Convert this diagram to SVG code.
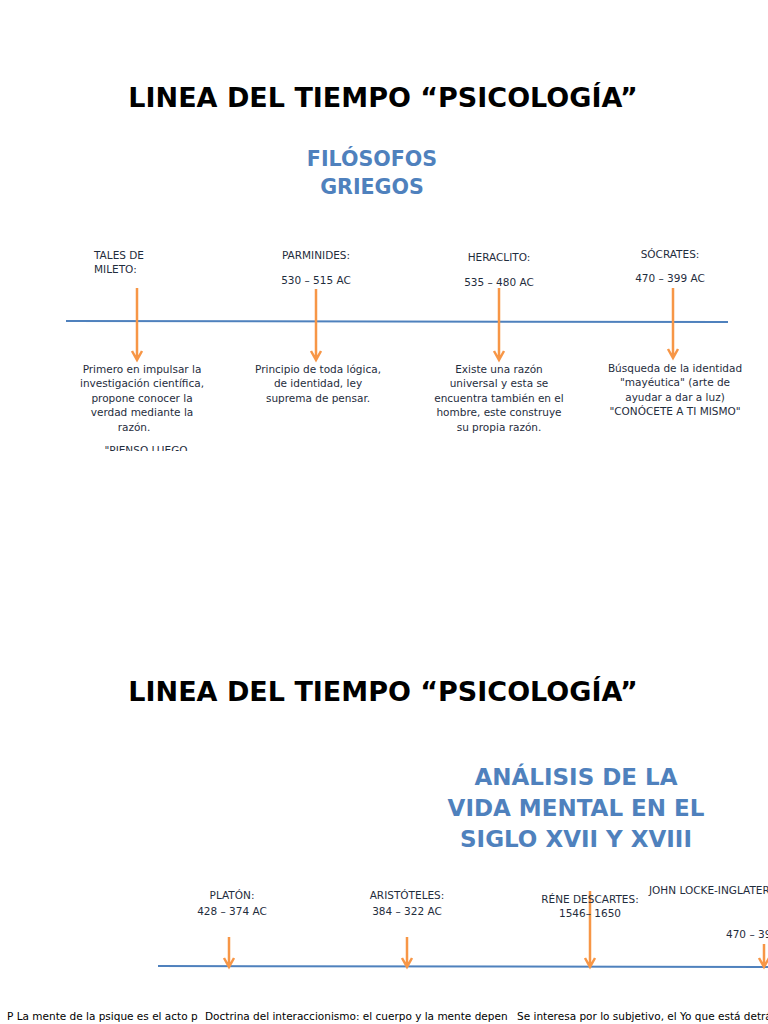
<svg xmlns="http://www.w3.org/2000/svg" width="768" height="1024" viewBox="0 0 768 1024">
<style>
.t{font-family:"DejaVu Sans",sans-serif;font-weight:bold;font-size:27px;fill:#000;text-anchor:middle}
.h{font-family:"DejaVu Sans",sans-serif;font-weight:bold;fill:#4f81bd;text-anchor:middle}
.s{font-family:"DejaVu Sans",sans-serif;font-size:10.5px;fill:#1f2d3d;text-anchor:middle}
.b{font-family:"DejaVu Sans",sans-serif;font-size:10.5px;fill:#000}
.ln{stroke:#4f81bd;stroke-width:2}
.ar{stroke:#f79646;stroke-width:2.5;fill:none}
</style>
<defs>
<clipPath id="c1"><rect x="0" y="440" width="768" height="11"/></clipPath>
<clipPath id="cb1"><rect x="0" y="1000" width="199" height="24"/></clipPath>
<clipPath id="cb2"><rect x="204" y="1000" width="308" height="24"/></clipPath>
</defs>
<rect width="768" height="1024" fill="#fff"/>
<text class="t" x="383" y="107">LINEA DEL TIEMPO “PSICOLOGÍA”</text>
<text class="h" font-size="20.6" x="372" y="166">FILÓSOFOS</text>
<text class="h" font-size="20.6" x="372" y="194">GRIEGOS</text>
<g id="connectors">
<line class="ln" x1="66" y1="321" x2="728" y2="322"/>
<path class="ar" d="M137 288V359M132 351L137 360L142 351"/>
<path class="ar" d="M316 289V359M311 351L316 360L321 351"/>
<path class="ar" d="M499 288V359M494 351L499 360L504 351"/>
<path class="ar" d="M673 288V357M668 349L673 358L678 349"/>
<line class="ln" x1="158" y1="966" x2="768" y2="967"/>
<path class="ar" d="M229 937V966M224 958L229 967L234 958"/>
<path class="ar" d="M407 937V966M402 958L407 967L412 958"/>
<path class="ar" d="M590 891V966M585 958L590 967L595 958"/>
<path class="ar" d="M764 944V966M759 958L764 967L769 958"/>
</g>
<g id="tales">
<text class="s" x="94" y="259" style="text-anchor:start">TALES DE</text>
<text class="s" x="94" y="273" style="text-anchor:start">MILETO:</text>
<text class="s" x="142" y="373">Primero en impulsar la</text>
<text class="s" x="142" y="387">investigación científica,</text>
<text class="s" x="142" y="402">propone conocer la</text>
<text class="s" x="142" y="416">verdad mediante la</text>
<text class="s" x="134" y="431">razón.</text>
<text class="s" x="146" y="454" clip-path="url(#c1)">"PIENSO LUEGO</text>
</g>
<g id="parminides">
<text class="s" x="316" y="259">PARMINIDES:</text>
<text class="s" x="316" y="284">530 – 515 AC</text>
<text class="s" x="318" y="373">Principio de toda lógica,</text>
<text class="s" x="318" y="387">de identidad, ley</text>
<text class="s" x="318" y="402">suprema de pensar.</text>
</g>
<g id="heraclito">
<text class="s" x="499" y="261">HERACLITO:</text>
<text class="s" x="499" y="286">535 – 480 AC</text>
<text class="s" x="499" y="373">Existe una razón</text>
<text class="s" x="499" y="387">universal y esta se</text>
<text class="s" x="499" y="402">encuentra también en el</text>
<text class="s" x="499" y="416">hombre, este construye</text>
<text class="s" x="499" y="431">su propia razón.</text>
</g>
<g id="socrates">
<text class="s" x="670" y="258">SÓCRATES:</text>
<text class="s" x="670" y="282">470 – 399 AC</text>
<text class="s" x="675" y="372">Búsqueda de la identidad</text>
<text class="s" x="675" y="386">"mayéutica" (arte de</text>
<text class="s" x="675" y="401">ayudar a dar a luz)</text>
<text class="s" x="675" y="415">"CONÓCETE A TI MISMO"</text>
</g>
<text class="t" x="383" y="701">LINEA DEL TIEMPO “PSICOLOGÍA”</text>
<text class="h" font-size="23" x="576" y="785">ANÁLISIS DE LA</text>
<text class="h" font-size="23" x="576" y="816">VIDA MENTAL EN EL</text>
<text class="h" font-size="23" x="576" y="847">SIGLO XVII Y XVIII</text>
<g id="platon">
<text class="s" x="232" y="899">PLATÓN:</text>
<text class="s" x="232" y="915">428 – 374 AC</text>
<text class="b" x="7" y="1020" clip-path="url(#cb1)">P  La mente de la psique es el acto p</text>
</g>
<g id="aristoteles">
<text class="s" x="407" y="899">ARISTÓTELES:</text>
<text class="s" x="407" y="915">384 – 322 AC</text>
<text class="b" x="205" y="1020" clip-path="url(#cb2)">Doctrina del interaccionismo: el cuerpo y la mente depen</text>
</g>
<g id="descartes">
<text class="s" x="590" y="903">RÉNE DESCARTES:</text>
<text class="s" x="590" y="917">1546– 1650</text>
<text class="b" x="517" y="1020">Se interesa por lo subjetivo, el Yo que está detrás</text>
</g>
<g id="locke">
<text class="s" x="649" y="894" style="text-anchor:start">JOHN LOCKE-INGLATERRA</text>
<text class="s" x="726" y="938" style="text-anchor:start">470 – 399 AC</text>
</g>
</svg>
